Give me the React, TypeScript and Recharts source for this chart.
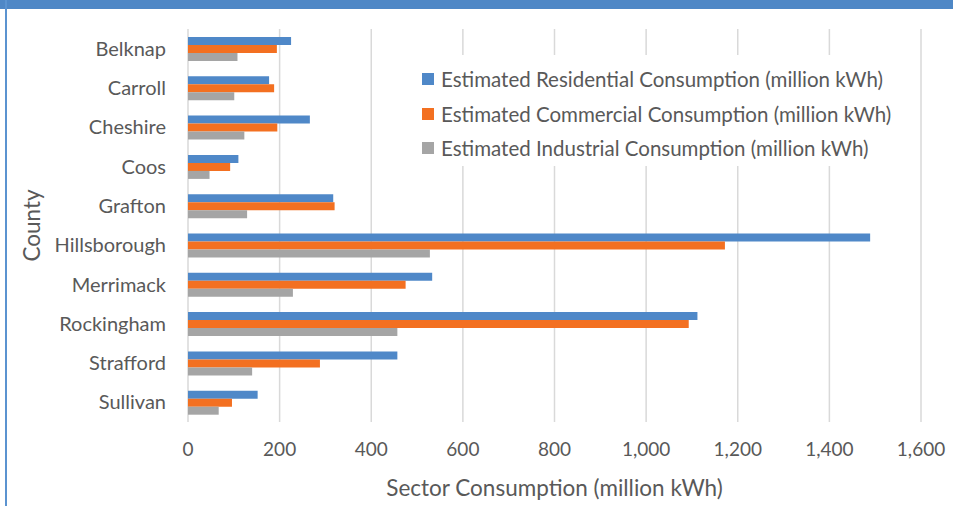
import React from 'react';
import {
  BarChart,
  Bar,
  XAxis,
  YAxis,
  CartesianGrid,
  Legend,
  Label,
} from 'recharts';

// County electricity consumption by sector (million kWh)
const counties = [
  'Belknap',
  'Carroll',
  'Cheshire',
  'Coos',
  'Grafton',
  'Hillsborough',
  'Merrimack',
  'Rockingham',
  'Strafford',
  'Sullivan',
];
const residential = [225, 177, 266, 110, 317, 1489, 533, 1112, 457, 152];
const commercial = [194, 188, 195, 92, 320, 1172, 475, 1093, 288, 96];
const industrial = [108, 101, 123, 47, 129, 528, 229, 457, 140, 67];
const xTicks = [0, 200, 400, 600, 800, 1000, 1200, 1400, 1600];

const seriesNames = [
  'Estimated Residential Consumption (million kWh)',
  'Estimated Commercial Consumption (million kWh)',
  'Estimated Industrial Consumption (million kWh)',
];
const seriesKeys = ['residential', 'commercial', 'industrial'];
const seriesColors = ['#4f88c8', '#f37021', '#a5a5a5'];

const data = counties.map((name, i) => ({
  name,
  residential: residential[i],
  commercial: commercial[i],
  industrial: industrial[i],
}));

const FONT = 'Lato, "Open Sans", sans-serif';
const TEXT = '#595959';

const fmt = (v: number) => v.toLocaleString('en-US');

function LegendBox() {
  return (
    <div style={{ background: '#fff', paddingTop: 7, paddingLeft: 14 }}>
      {seriesNames.map((n, i) => (
        <div
          key={n}
          style={{
            display: 'flex',
            alignItems: 'center',
            height: 34.5,
            fontFamily: FONT,
            fontSize: 20.5,
            color: TEXT,
            whiteSpace: 'nowrap',
          }}
        >
          <span
            style={{
              display: 'inline-block',
              width: 12,
              height: 12,
              background: seriesColors[i],
              marginRight: 7,
            }}
          />
          {n}
        </div>
      ))}
    </div>
  );
}

function CountyTitle(props: any) {
  const vb = props.viewBox || { x: 0, y: 0, width: 0, height: 0 };
  const cx = vb.x + 31;
  const cy = vb.y + vb.height / 2;
  return (
    <text
      x={cx}
      y={cy}
      transform={`rotate(-90 ${cx} ${cy})`}
      textAnchor="middle"
      dominantBaseline="central"
      fontFamily={FONT}
      fontSize={22.5}
      fill={TEXT}
    >
      County
    </text>
  );
}

export default function App() {
  return (
    <div
      style={{
        position: 'absolute',
        left: 0,
        top: 0,
        width: 953,
        height: 506,
        background: '#fff',
        overflow: 'hidden',
      }}
    >
      <div style={{ position: 'absolute', left: 0, top: 0, width: 953, height: 9, background: '#4e87c6' }} />
      <div style={{ position: 'absolute', left: 5, top: 0, width: 2, height: 506, background: '#5b93d0' }} />
      <BarChart
        width={953}
        height={506}
        data={data}
        layout="vertical"
        margin={{ top: 29, right: 32, left: 0, bottom: 0 }}
        barGap={0}
        barSize={8}
      >
        <CartesianGrid horizontal={false} stroke="#d9d9d9" strokeWidth={1.5} />
        <XAxis
          type="number"
          domain={[0, 1600]}
          ticks={xTicks}
          tickFormatter={fmt}
          axisLine={false}
          tickLine={false}
          tickSize={6}
          tickMargin={15}
          height={84}
          tick={{ fill: TEXT, fontFamily: FONT, fontSize: 19 }}
        >
          <Label
            value="Sector Consumption (million kWh)"
            position="insideBottom"
            offset={10}
            fill={TEXT}
            fontFamily={FONT}
            fontSize={22.5}
          />
        </XAxis>
        <YAxis
          type="category"
          dataKey="name"
          width={188}
          axisLine={false}
          tickLine={false}
          tickSize={6}
          tickMargin={16}
          interval={0}
          tick={{ fill: TEXT, fontFamily: FONT, fontSize: 20 }}
          label={<CountyTitle />}
        />
        <Legend
          layout="horizontal"
          verticalAlign="middle"
          align="center"
          content={<LegendBox />}
          wrapperStyle={{ top: 55, left: 408, width: 492, height: 116 }}
        />
        {seriesKeys.map((k, i) => (
          <Bar
            key={k}
            dataKey={k}
            name={seriesNames[i]}
            fill={seriesColors[i]}
            isAnimationActive={false}
          />
        ))}
      </BarChart>
    </div>
  );
}
